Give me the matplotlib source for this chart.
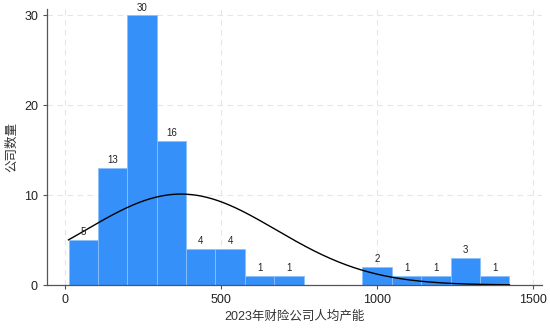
import numpy as np
import matplotlib
matplotlib.use("Agg")
import matplotlib.pyplot as plt

plt.rcParams['font.family'] = ['Liberation Sans', 'Noto Sans CJK SC', 'DejaVu Sans']

bin_start = 11.0
bin_width = 94.3
counts = [5, 13, 30, 16, 4, 4, 1, 1, 0, 0, 2, 1, 1, 3, 1]
mean_val = 372.0
sd_val = 305.0
xticks = [0, 500, 1000, 1500]
yticks = [0, 10, 20, 30]

n = len(counts)
edges = bin_start + bin_width * np.arange(n + 1)
total = sum(counts)

fig = plt.figure(figsize=(5.5, 3.31), dpi=100)
ax = fig.add_axes([47/550, 46/331, 495/550, 276/331])

ax.bar(edges[:-1], counts, width=bin_width, align='edge', color='#3590FA',
       edgecolor='#8CC0FA', linewidth=0.6, zorder=2)
for x0, c in zip(edges[:-1], counts):
    if c > 0:
        ax.text(x0 + bin_width/2, c + 0.3, str(c), ha='center', va='bottom',
                fontsize=7, color='#222222', zorder=4)

xs = np.linspace(edges[0], edges[-1], 400)
ys = total * bin_width / (sd_val * np.sqrt(2*np.pi)) * np.exp(-0.5*((xs-mean_val)/sd_val)**2)
ax.plot(xs, ys, color='black', lw=1.0, zorder=3)

ax.set_xlim(-58, 1530)
ax.set_ylim(0, 30.7)
ax.set_xticks(xticks)
ax.set_yticks(yticks)
ax.tick_params(labelsize=9, length=3, color='#555555', width=0.8, labelcolor='#222222')
ax.grid(True, linestyle=(0, (5, 4)), color='#E6E6E6', linewidth=0.8, zorder=0)
ax.set_axisbelow(True)
for s in ['top', 'right']:
    ax.spines[s].set_visible(False)
for s in ['left', 'bottom']:
    ax.spines[s].set_color('#555555')
    ax.spines[s].set_linewidth(0.9)
ax.set_xlabel('2023年财险公司人均产能', fontsize=9, color='#333333', labelpad=3)
ax.set_ylabel('公司数量', fontsize=9, color='#333333', labelpad=4)

fig.savefig('out.png', dpi=100)
